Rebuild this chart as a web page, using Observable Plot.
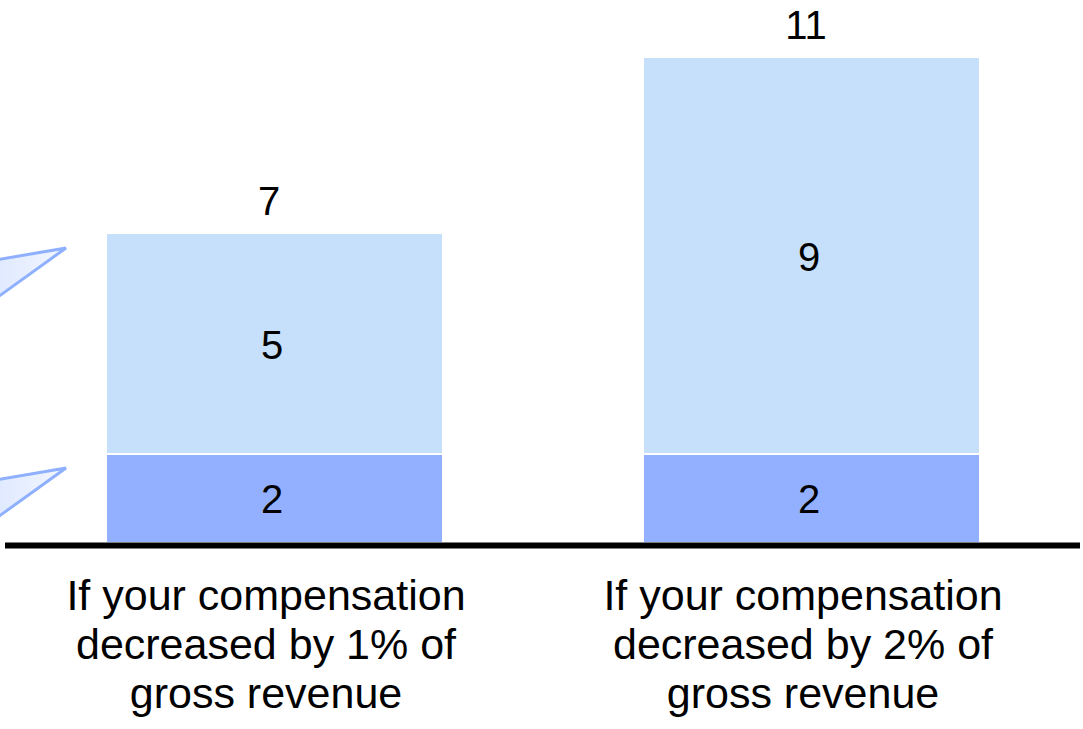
<!DOCTYPE html>
<html>
<head>
<meta charset="utf-8">
<script src="https://cdn.jsdelivr.net/npm/d3@7"></script>
<script src="https://cdn.jsdelivr.net/npm/@observablehq/plot@0.6"></script>
<style>
  html, body { margin: 0; padding: 0; background: #fff; }
  #chart svg { display: block; }
</style>
</head>
<body>
<div id="chart"></div>
<script>
// Scenario categories (tick labels, one line per "\n")
const categories = [
  "If your compensation\ndecreased by 1% of\ngross revenue",
  "If your compensation\ndecreased by 2% of\ngross revenue"
];
// Stacked series, bottom to top
const seriesNames = ["lower", "upper"];
const lowerValues = [2, 2];
const upperValues = [5, 9];
const totals = [7, 11];
const seriesColors = ["#92b0ff", "#c6e0fb"];

// Build stacked segment rows
const segments = [];
categories.forEach((c, i) => {
  let base = 0;
  [lowerValues[i], upperValues[i]].forEach((v, s) => {
    segments.push({category: c, series: seriesNames[s], value: v, y1: base, y2: base + v});
    base += v;
  });
});
const totalRows = categories.map((c, i) => ({category: c, total: totals[i]}));

const font = "'Liberation Sans', Arial, sans-serif";

const chart = Plot.plot({
  width: 1083,
  height: 729,
  marginLeft: 5,
  marginRight: 3,
  marginTop: 0,
  marginBottom: 187,
  style: {fontFamily: font, background: "#fff", color: "#000"},
  x: {domain: categories, range: [106, 979], paddingInner: 0.377, paddingOuter: 0, label: null},
  y: {domain: [0, 11], range: [542, 58], axis: null},
  color: {domain: seriesNames, range: seriesColors},
  marks: [
    // upper segments stop 1px short of the lower ones, leaving a white seam
    Plot.barY(segments, {
      x: "category", y1: "y1", y2: "y2", fill: "series",
      insetBottom: 0
    }),
    Plot.text(segments, {
      x: "category", y: d => (d.y1 + d.y2) / 2, text: d => String(d.value),
      fontSize: 40, fill: "#000", lineAnchor: "middle", dx: -3, dy: 2
    }),
    Plot.text(totalRows, {
      x: "category", y: "total", text: d => String(d.total),
      fontSize: 40, fill: "#000", lineAnchor: "middle", dx: -6, dy: -32
    }),
    Plot.axisX({
      tickSize: 0, tickPadding: 33, fontSize: 43, lineHeight: 1.14,
      label: null, fill: "#000", dx: -9
    }),
    Plot.ruleY([0], {stroke: "#000", strokeWidth: 6, dy: 3})
  ]
});

document.getElementById("chart").appendChild(chart);

const xs = chart.scale("x");
const ys = chart.scale("y");
const svg = d3.select(chart);

// White seam at each segment boundary
svg.append("g").attr("aria-label", "seams")
  .selectAll("line")
  .data(segments.filter(d => d.y1 > 0))
  .join("line")
  .attr("x1", d => xs.apply(d.category))
  .attr("x2", d => xs.apply(d.category) + xs.bandwidth)
  .attr("y1", d => ys.apply(d.y1))
  .attr("y2", d => ys.apply(d.y1))
  .attr("stroke", "#fff")
  .attr("stroke-width", 2);

// Callout pointers from the (off-canvas) legend toward the first bar's segments
const defs = svg.append("defs");
const grad = defs.append("linearGradient").attr("id", "callout-fill")
  .attr("x1", "0").attr("x2", "1").attr("y1", "0").attr("y2", "0");
grad.append("stop").attr("offset", "0").attr("stop-color", "#d6e3ff");
grad.append("stop").attr("offset", "1").attr("stop-color", "#f2f6ff");

const firstBarLeft = xs.apply(categories[0]);
const calloutTops = [lowerValues[0] + upperValues[0], lowerValues[0]];
const g = svg.append("g").attr("aria-label", "callouts");
calloutTops.forEach(v => {
  const tx = firstBarLeft - 41;
  const ty = ys.apply(v) + 14;
  const far = tx + 40;
  const pts = [
    [tx, ty],
    [tx - far, ty + far * 0.17],
    [tx - far, ty + far * 0.72]
  ];
  g.append("polygon")
    .attr("points", pts.map(p => p.join(",")).join(" "))
    .attr("fill", "url(#callout-fill)")
    .attr("stroke", "#8fb0ff")
    .attr("stroke-width", 3)
    .attr("stroke-linejoin", "miter");
});
</script>
</body>
</html>
